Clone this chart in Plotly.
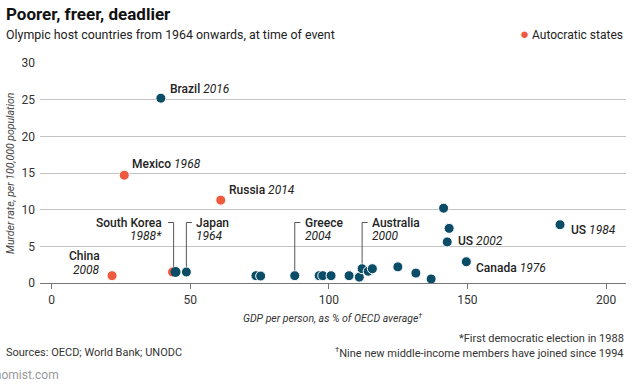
import plotly.graph_objects as go

# ---------------- data ----------------
# Democratic host countries (GDP per person % of OECD avg, murder rate per 100k)
demo_gdp = [39.4, 44.7, 48.6, 73.7, 75.4, 87.7, 96.5, 97.8, 100.8, 107.3, 111.0,
            112.0, 114.2, 115.7, 124.9, 131.4, 136.9, 141.4, 143.4, 142.7, 149.6, 183.4]
demo_murder = [25.2, 1.5, 1.5, 1.0, 0.95, 1.0, 1.0, 1.0, 1.0, 1.0, 0.8,
               1.95, 1.6, 1.95, 2.2, 1.35, 0.55, 10.2, 7.45, 5.6, 2.9, 7.95]

# Autocratic states
auto_gdp = [21.8, 26.2, 43.6, 61.0]
auto_murder = [1.0, 14.7, 1.5, 11.3]

# Point labels: (gdp, murder, name, year, xshift px, yshift px)
simple_labels = [
    (39.4, 25.2, "Brazil", "2016", 7, 9),
    (26.2, 14.7, "Mexico", "1968", 6, 11),
    (61.0, 11.3, "Russia", "2014", 6, 10),
    (142.7, 5.6, "US", "2002", 9, 1),
    (149.6, 2.9, "Canada", "1976", 8, -6),
    (183.4, 7.95, "US", "1984", 9, -5),
]
# Labels with leader lines: (gdp, murder, name, year, side)
leader_labels = [
    (44.0, 1.5, "South Korea", "1988*", "left"),
    (48.6, 1.5, "Japan", "1964", "right"),
    (87.7, 1.0, "Greece", "2004", "right"),
    (112.0, 1.95, "Australia", "2000", "right"),
]

x_ticks = [0, 50, 100, 150, 200]
y_ticks = [0, 5, 10, 15, 20, 25, 30]

BLUE = "#0b4c66"
RED = "#ee5a3d"
TXT = "#222222"
FONT = "Roboto"

# ---------------- layout geometry ----------------
W, H = 640, 387
L, R, T, B = 40, 14, 63, 104
PW, PH = W - L - R, H - T - B


def px(xp):
    return (xp - L) / PW


def py(yp):
    return (H - B - yp) / PH


fig = go.Figure()

fig.add_trace(go.Scatter(
    x=auto_gdp, y=auto_murder, mode="markers",
    marker=dict(color=RED, size=10, line=dict(color="white", width=1)),
    cliponaxis=False, showlegend=False, hoverinfo="skip"))
# South Korea's blue half sits on its red half without a white rim
demo_outline = [0 if i == 1 else 1 for i in range(len(demo_gdp))]
fig.add_trace(go.Scatter(
    x=demo_gdp, y=demo_murder, mode="markers",
    marker=dict(color=BLUE, size=10, line=dict(color="white", width=demo_outline)),
    cliponaxis=False, showlegend=False, hoverinfo="skip"))

ann = []
lab_font = dict(family=FONT, size=12, color=TXT)


def lab(name, year):
    return f'<span style="font-weight:500">{name}</span> <i>{year}</i>'


for g, m, name, year, xs, ys in simple_labels:
    ann.append(dict(x=g, y=m, xref="x", yref="y", text=lab(name, year),
                    showarrow=False, xanchor="left", yanchor="middle",
                    xshift=xs, yshift=ys, font=lab_font))

# China (two lines, right-aligned)
ann.append(dict(x=21.8, y=1.0, xref="x", yref="y", text='<span style="font-weight:500">China</span>',
                showarrow=False, xanchor="right", yanchor="middle", xshift=-10, yshift=20, font=lab_font))
ann.append(dict(x=21.8, y=1.0, xref="x", yref="y", text='<i>2008</i>',
                showarrow=False, xanchor="right", yanchor="middle", xshift=-10, yshift=6, font=lab_font))

LY1, LY2 = 8.25, 6.35
STUB = 2.0
shapes = []
for g, m, name, year, side in leader_labels:
    shapes.append(dict(type="line", xref="x", yref="y", x0=g, x1=g, y0=m + 0.7, y1=LY1,
                       line=dict(color="#555555", width=1)))
    if side == "left":
        shapes.append(dict(type="line", xref="x", yref="y", x0=g, x1=g - STUB, y0=LY1, y1=LY1,
                           line=dict(color="#555555", width=1)))
        xa, xs = "right", -10
    else:
        shapes.append(dict(type="line", xref="x", yref="y", x0=g, x1=g + STUB, y0=LY1, y1=LY1,
                           line=dict(color="#555555", width=1)))
        xa, xs = "left", 8
    ann.append(dict(x=g, y=LY1, xref="x", yref="y", text=f'<span style="font-weight:500">{name}</span>',
                    showarrow=False, xanchor=xa, yanchor="middle", xshift=xs, font=lab_font))
    ann.append(dict(x=g, y=LY2, xref="x", yref="y", text=f'<i>{year}</i>',
                    showarrow=False, xanchor=xa, yanchor="middle", xshift=xs, font=lab_font))

# titles and notes
ann.append(dict(x=px(4), y=py(14), xref="paper", yref="paper", text="<b>Poorer, freer, deadlier</b>",
                showarrow=False, xanchor="left", yanchor="middle",
                font=dict(family=FONT, size=17, color="#111111")))
ann.append(dict(x=px(4), y=py(34), xref="paper", yref="paper",
                text="Olympic host countries from 1964 onwards, at time of event",
                showarrow=False, xanchor="left", yanchor="middle",
                font=dict(family=FONT, size=12.4, color=TXT)))
ann.append(dict(x=px(625), y=py(34), xref="paper", yref="paper",
                text=f'<span style="color:{RED};font-size:15px">●</span> Autocratic states',
                showarrow=False, xanchor="right", yanchor="middle",
                font=dict(family=FONT, size=12, color=TXT)))
ann.append(dict(x=px(10), y=py(173), xref="paper", yref="paper",
                text="<i>Murder rate, per 100,000 population</i>", textangle=-90,
                showarrow=False, xanchor="center", yanchor="middle",
                font=dict(family=FONT, size=10.5, color="#444444")))
ann.append(dict(x=px(332), y=py(318), xref="paper", yref="paper",
                text="<i>GDP per person, as % of OECD average<sup>†</sup></i>",
                showarrow=False, xanchor="center", yanchor="middle",
                font=dict(family=FONT, size=10.5, color="#333333")))
ann.append(dict(x=px(626), y=py(339), xref="paper", yref="paper",
                text="*First democratic election in 1988",
                showarrow=False, xanchor="right", yanchor="middle",
                font=dict(family=FONT, size=11, color="#333333")))
ann.append(dict(x=px(626), y=py(352), xref="paper", yref="paper",
                text="<sup>†</sup>Nine new middle-income members have joined since 1994",
                showarrow=False, xanchor="right", yanchor="middle",
                font=dict(family=FONT, size=11, color="#333333")))
ann.append(dict(x=px(4), y=py(352), xref="paper", yref="paper",
                text="Sources: OECD; World Bank; UNODC",
                showarrow=False, xanchor="left", yanchor="middle",
                font=dict(family=FONT, size=11, color="#333333")))
ann.append(dict(x=px(61), y=py(375), xref="paper", yref="paper",
                text="Economist.com",
                showarrow=False, xanchor="right", yanchor="middle",
                font=dict(family=FONT, size=12, color="#999999")))

fig.update_layout(
    width=W, height=H,
    margin=dict(l=L, r=R, t=T, b=B, pad=0, autoexpand=False),
    paper_bgcolor="white", plot_bgcolor="white",
    showlegend=False,
    annotations=ann, shapes=shapes,
    xaxis=dict(range=[-4.2, 207.2], tickvals=x_ticks, showgrid=False, zeroline=False,
               showline=True, linecolor="#777777", linewidth=1.3, automargin=False,
               ticks="outside", ticklen=5, tickcolor="#777777", tickwidth=1,
               tickfont=dict(family=FONT, size=12, color="#333333"), fixedrange=True),
    yaxis=dict(range=[0, 30], tickvals=y_ticks, showgrid=True, gridcolor="#c4c4c4", gridwidth=1,
               zeroline=False, showline=False, ticks="", ticklabelstandoff=4, automargin=False,
               tickfont=dict(family=FONT, size=12, color="#333333"), fixedrange=True),
)

fig.write_html("out.html", config={"displayModeBar": False},
               post_script="document.body.style.margin='0px';document.body.style.overflow='hidden';")
